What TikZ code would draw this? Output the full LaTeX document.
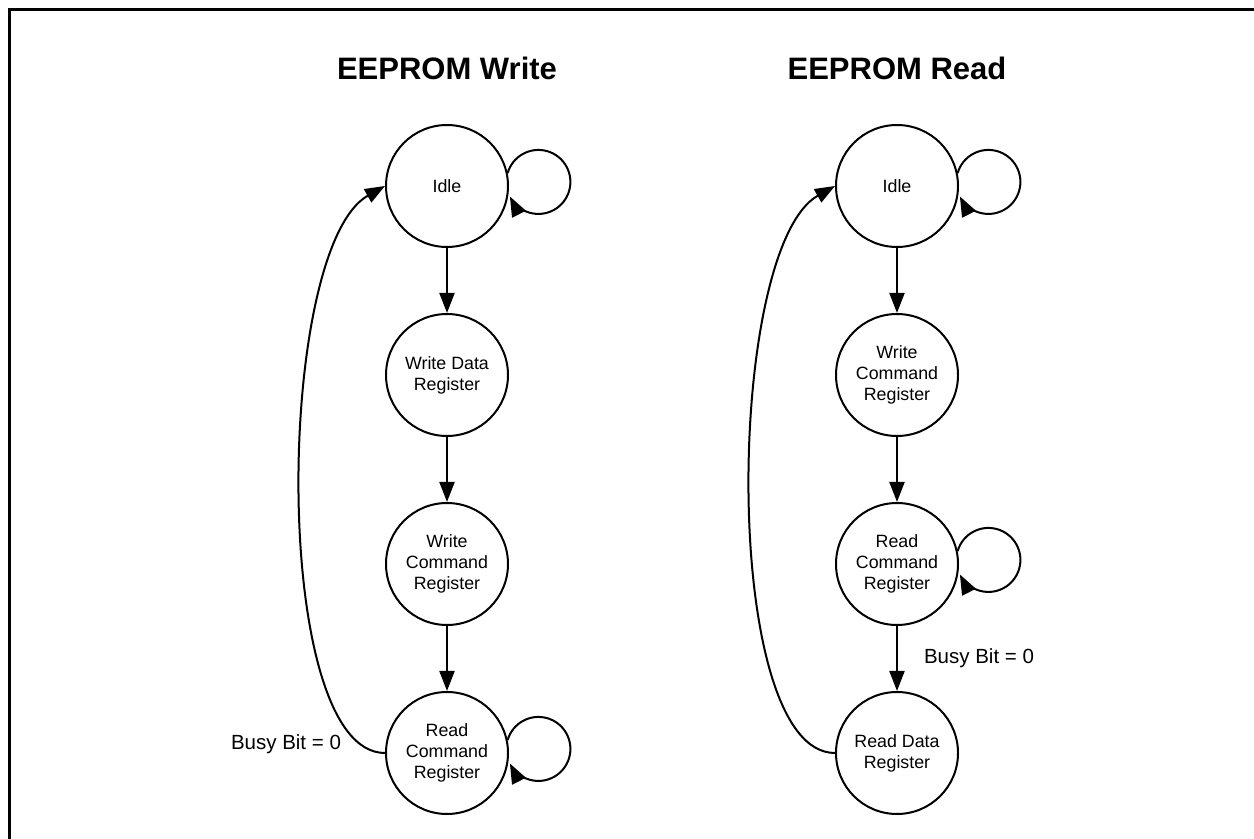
\documentclass[tikz,border=0pt]{standalone}
\usepackage{fontspec}
\setmainfont{Liberation Sans}
\usetikzlibrary{arrows.meta}

\tikzstyle{state} = [draw, circle, minimum size=61pt, inner sep=0pt, align=center, font=\fontsize{8.9}{10.5}\selectfont]
\tikzstyle{inout} = [rectangle, inner sep=0pt, font=\fontsize{10.25}{12}\selectfont]
\tikzstyle{title} = [inout, font=\fontsize{15.5}{18}\selectfont\bfseries]

\begin{document}
\begin{tikzpicture}[x=0.5pt,y=0.5pt,node distance=1cm,line width=1pt,
    >={Triangle[length=10pt,width=7.5pt]}]
  \def\sep{94.5pt}
  \def\lr{16pt}

  \useasboundingbox (0,0) rectangle (1254,-839);
  \draw [line width=1.25pt] (9.5,-839) -- (9.5,-9.5) -- (1254,-9.5);

  % write side
  \node [title, anchor=base] (wtitle) at (447,-80) {EEPROM Write};
  \node [state] (idle_w) at (447,-186) {Idle};
  \node [state, below of=idle_w, node distance=\sep] (wdr_w) {Write Data\\Register};
  \node [state, below of=wdr_w, node distance=\sep] (wcr_w) {Write\\Command\\Register};
  \node [state, below of=wcr_w, node distance=\sep] (rcr_w) {Read\\Command\\Register};
  \node [inout, anchor=base] (busy_w) at (286,-749) {Busy Bit = 0};

  % read side
  \node [title, anchor=base] (rtitle) at (897,-80) {EEPROM Read};
  \node [state] (idle_r) at (897,-186) {Idle};
  \node [state, below of=idle_r, node distance=\sep] (wcr_r) {Write\\Command\\Register};
  \node [state, below of=wcr_r, node distance=\sep] (rcr_r) {Read\\Command\\Register};
  \node [state, below of=rcr_r, node distance=\sep] (rdr_r) {Read Data\\Register};
  \node [inout, anchor=base] (busy_r) at (979,-663) {Busy Bit = 0};

  \draw [->] (idle_w) -- (wdr_w);
  \draw [->] (wdr_w) -- (wcr_w);
  \draw [->] (wcr_w) -- (rcr_w);
  \draw [->] (idle_w.12) arc [start angle=164, end angle=-153, radius=\lr];
  \draw [->] (rcr_w.12) arc [start angle=164, end angle=-153, radius=\lr];
  \draw [->] (rcr_w.west) .. controls +(-115,0) and +(-110,-62) .. (idle_w.west);

  \draw [->] (idle_r) -- (wcr_r);
  \draw [->] (wcr_r) -- (rcr_r);
  \draw [->] (rcr_r) -- (rdr_r);
  \draw [->] (idle_r.12) arc [start angle=164, end angle=-153, radius=\lr];
  \draw [->] (rcr_r.12) arc [start angle=164, end angle=-153, radius=\lr];
  \draw [->] (rdr_r.west) .. controls +(-115,0) and +(-110,-62) .. (idle_r.west);
\end{tikzpicture}
\end{document}
